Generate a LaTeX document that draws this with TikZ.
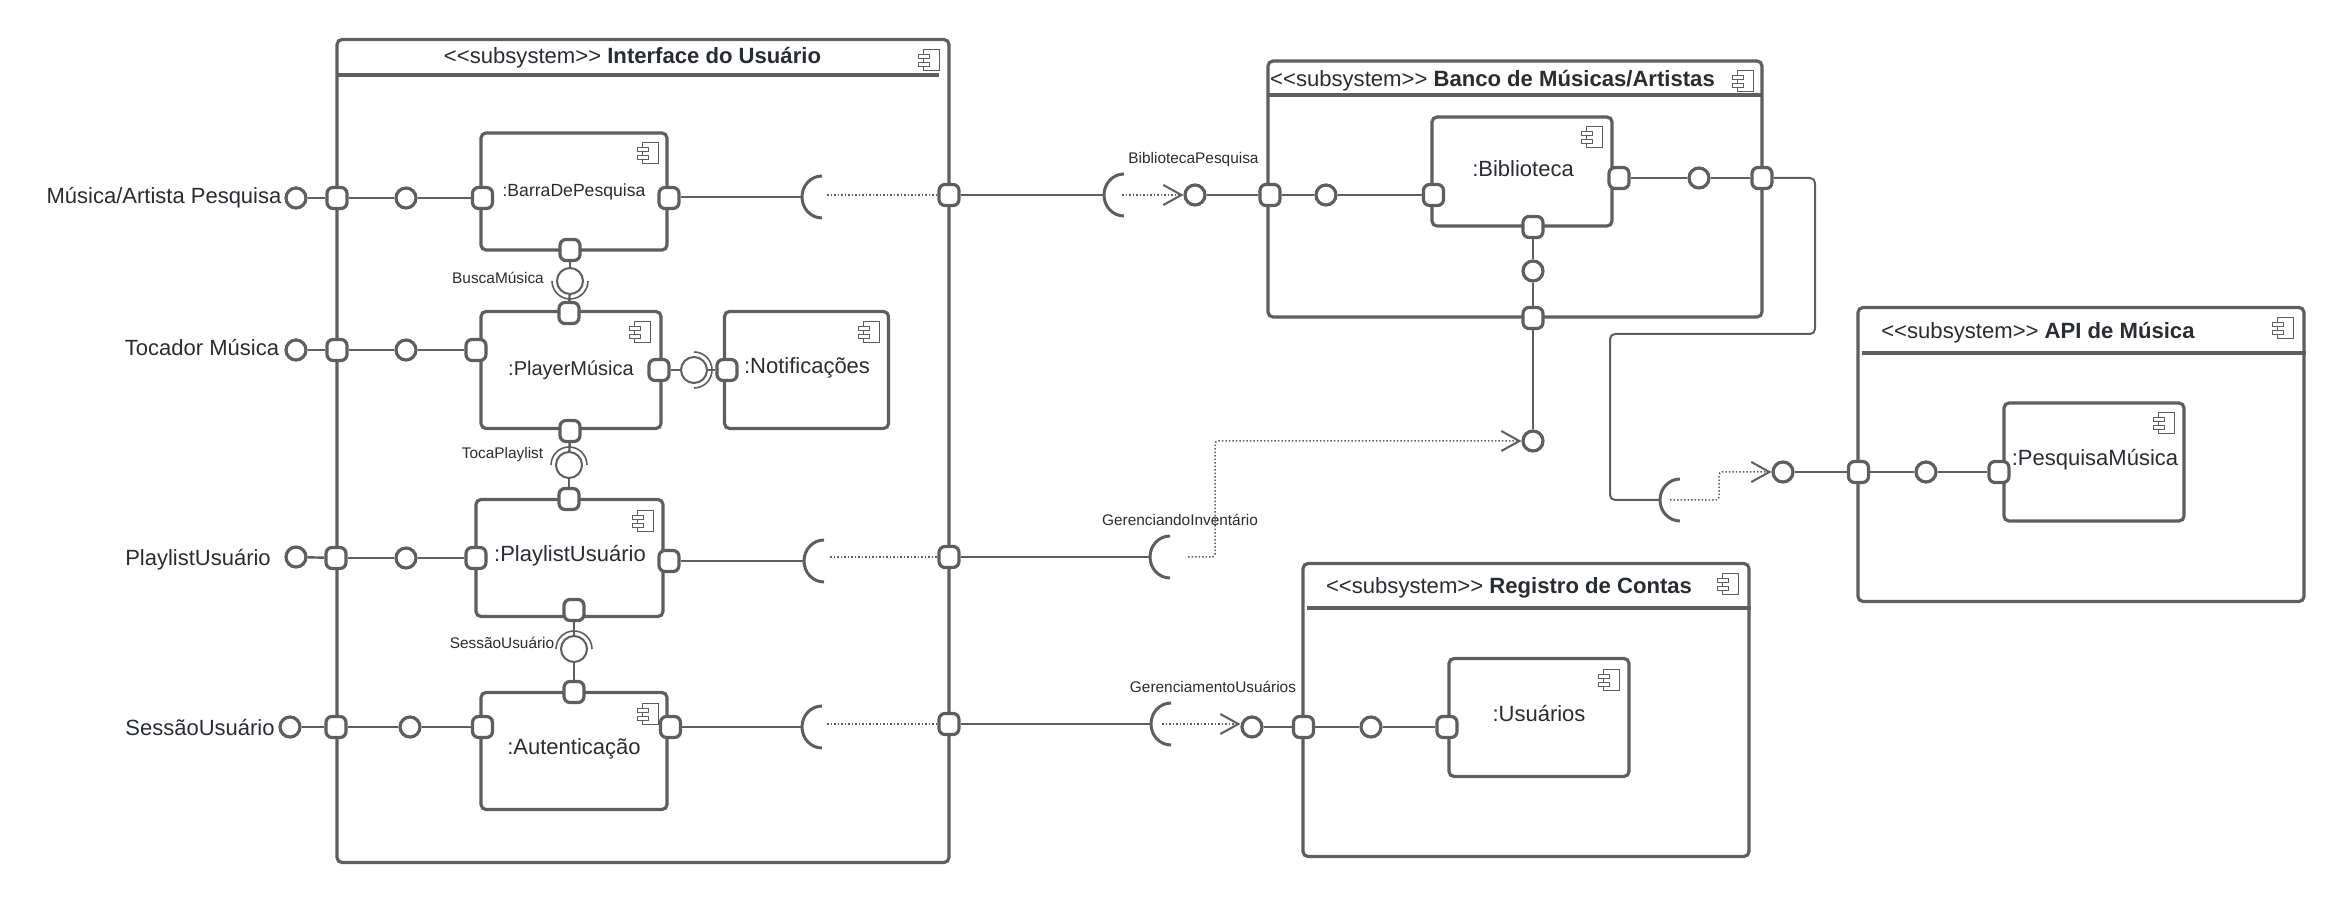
\documentclass[tikz,border=0pt]{standalone}
\usepackage{fontspec}
\setmainfont{Liberation Sans}
\usetikzlibrary{arrows.meta}
\definecolor{linegray}{HTML}{5E5E5E}
\definecolor{textdark}{HTML}{282C33}
\tikzset{
  bigbox/.style={rectangle,draw=linegray,line width=1.6pt,rounded corners=2.5pt,inner sep=0pt},
  compbox/.style={bigbox},
  port/.style={rectangle,draw=linegray,fill=white,line width=1.6pt,rounded corners=3pt,
    minimum width=10pt,minimum height=10.5pt,inner sep=0pt},
  ball/.style={circle,draw=linegray,fill=white,line width=1.6pt,minimum size=10pt,inner sep=0pt},
  bigball/.style={circle,draw=linegray,fill=white,line width=1pt,minimum size=13pt,inner sep=0pt},
  conn/.style={draw=linegray,line width=1.2pt},
  headline/.style={draw=linegray,line width=1.6pt},
  halfarc/.style={draw=linegray,line width=.8pt},
  dotline/.style={draw=linegray,line width=.75pt,densely dotted},
  dotarrow/.style={dotline,-{Straight Barb[length=9pt,width=10pt,line width=1pt]},rounded corners=1.5pt},
  title/.style={text=textdark,font=\fontsize{11.05}{13}\selectfont,inner sep=0pt,yshift=-.8pt},
  outlabel/.style={text=textdark,font=\fontsize{11}{13}\selectfont,inner sep=0pt,yshift=-.8pt},
  complabel/.style={text=textdark,font=\fontsize{11}{13}\selectfont,inner sep=0pt,yshift=-.6pt},
  smalllabel/.style={text=textdark,font=\fontsize{7.7}{9}\selectfont,inner sep=0pt},
  compicon/.pic={
    \draw[linegray,line width=.5pt] (-16,0) rectangle (0,21);
    \draw[linegray,line width=.5pt,fill=white] (-21,5) rectangle (-10,9);
    \draw[linegray,line width=.5pt,fill=white] (-21,13) rectangle (-10,17);
  },
  socket/.pic={
    \draw[linegray,line width=1.5pt] (20,-21) arc[start angle=270,end angle=90,x radius=20,y radius=21];
  }
}
\newcommand{\stereo}{<{}<subsystem>{}>}
\begin{document}
\begin{tikzpicture}[x=0.5pt,y=-0.5pt]
  \useasboundingbox (0,0) rectangle (2347,903);

  % subsystems
  \node[bigbox,minimum width=306pt,minimum height=411.5pt] (uibox) at (643,451) {};
  \node[bigbox,minimum width=247pt,minimum height=128pt] (bancobox) at (1515,189) {};
  \node[bigbox,minimum width=223pt,minimum height=146.5pt] (contasbox) at (1526,710) {};
  \node[bigbox,minimum width=223pt,minimum height=147pt] (apibox) at (2081,454.5) {};
  \draw[headline] (337,75) -- (939,75);
  \draw[headline] (1269,95) -- (1762,95);
  \draw[headline] (1307,608) -- (1751,608);
  \draw[headline] (1862,353) -- (2306,353);
  \node[title] (uititle) at (632.5,56) {\stereo{} \textbf{Interface do Usuário}};
  \node[title] (bancotitle) at (1492.5,79) {\stereo{} \textbf{Banco de Músicas/Artistas}};
  \node[title] (contastitle) at (1509,586) {\stereo{} \textbf{Registro de Contas}};
  \node[title] (apititle) at (2038,331) {\stereo{} \textbf{API de Música}};

  % components
  \node[compbox,minimum width=93pt,minimum height=58.5pt] (barra) at (574,191.5) {};
  \node[compbox,minimum width=90pt,minimum height=58.5pt] (player) at (571,370) {};
  \node[compbox,minimum width=82pt,minimum height=58.5pt] (notif) at (806.5,370) {};
  \node[compbox,minimum width=93.5pt,minimum height=58.5pt] (playlist) at (569.5,558) {};
  \node[compbox,minimum width=93pt,minimum height=58.5pt] (autent) at (574,751) {};
  \node[compbox,minimum width=90pt,minimum height=54.5pt] (biblio) at (1522,171.5) {};
  \node[compbox,minimum width=90pt,minimum height=59pt] (usuarios) at (1539,717.5) {};
  \node[compbox,minimum width=90pt,minimum height=59pt] (pesqmus) at (2094,462) {};
  \node[complabel,font=\fontsize{8.8}{11}\selectfont] (barratext) at (574,191) {:BarraDePesquisa};
  \node[complabel,font=\fontsize{10}{12}\selectfont] (playertext) at (571,369) {:PlayerMúsica};
  \node[complabel] (notiftext) at (807,367) {:Notificações};
  \node[complabel] (playlisttext) at (570,554) {:PlaylistUsuário};
  \node[complabel] (autenttext) at (574,748) {:Autenticação};
  \node[complabel] (bibliotext) at (1523,167.5) {:Biblioteca};
  \node[complabel] (usuariostext) at (1539,712) {:Usuários};
  \node[complabel] (pesqmustext) at (2095,458) {:PesquisaMúsica};
  \pic at (939,50) {compicon};
  \pic at (1753,71) {compicon};
  \pic at (1738,574) {compicon};
  \pic at (2293,318) {compicon};
  \pic at (658,143) {compicon};
  \pic at (650,322) {compicon};
  \pic at (879,322) {compicon};
  \pic at (653,511) {compicon};
  \pic at (658,703) {compicon};
  \pic at (1602,127) {compicon};
  \pic at (1619,669) {compicon};
  \pic at (2174,413) {compicon};

  % outer labels
  \node[outlabel] (musicalabel) at (164,196) {Música/Artista Pesquisa};
  \node[outlabel] (tocadorlabel) at (202,346) {Tocador Música};
  \node[outlabel] (playlistlabel) at (198,558) {PlaylistUsuário};
  \node[outlabel] (sessaolabel) at (200,726) {SessãoUsuário};
  \node[smalllabel] (buscalabel) at (498,278) {BuscaMúsica};
  \node[smalllabel] (tocalabel) at (502.5,455) {TocaPlaylist};
  \node[smalllabel] (sessaosmall) at (502,643) {SessãoUsuário};
  \node[smalllabel] (bibpesqlabel) at (1193.5,160) {BibliotecaPesquisa};
  \node[smalllabel] (gerinvlabel) at (1180,520) {GerenciandoInventário};
  \node[smalllabel] (gerusulabel) at (1213,687) {GerenciamentoUsuários};

  % first row
  \node[ball] (outmusica) at (296,198) {};
  \node[port] (pmusica) at (337,198) {};
  \node[ball] (midmusica) at (406,198) {};
  \node[port] (pbarraw) at (482.5,198) {};
  \node[port] (pbarrae) at (669,198) {};
  \coordinate (sockbarra) at (802,197);
  \coordinate (dotbarra) at (827,195);
  \node[port] (puibarra) at (949,195) {};
  \pic at (sockbarra) {socket};
  \draw[conn] (outmusica) -- (pmusica);
  \draw[conn] (pmusica) -- (midmusica);
  \draw[conn] (midmusica) -- (pbarraw);
  \draw[conn] (pbarrae.east |- sockbarra) -- (sockbarra);
  \draw[dotline] (dotbarra) -- (puibarra);

  % second row
  \node[ball] (outtocador) at (296,350) {};
  \node[port] (ptocador) at (337,350) {};
  \node[ball] (midtocador) at (406,350) {};
  \node[port] (pplayerw) at (476,350) {};
  \node[port] (pplayere) at (659,370) {};
  \node[port] (pnotif) at (727,370) {};
  \node[bigball] (ballnotif) at (694,370) {};
  \draw[conn] (outtocador) -- (ptocador);
  \draw[conn] (ptocador) -- (midtocador);
  \draw[conn] (midtocador) -- (pplayerw);
  \draw[conn] (pplayere) -- (ballnotif);
  \draw[conn] (ballnotif) -- (pnotif);
  \draw[halfarc] (694,352) arc[start angle=270,end angle=450,radius=18];

  % third row
  \node[ball] (outplaylist) at (296,557) {};
  \node[port] (pplaylist) at (336,558) {};
  \node[ball] (midplaylist) at (406,558) {};
  \node[port] (pplaylistw) at (476,558) {};
  \node[port] (pplayliste) at (669,561) {};
  \coordinate (sockplaylist) at (804,561);
  \coordinate (dotplaylist) at (830,557);
  \node[port] (puiplaylist) at (949,557) {};
  \pic at (sockplaylist) {socket};
  \draw[conn] (outplaylist) -- (pplaylist);
  \draw[conn] (pplaylist) -- (midplaylist);
  \draw[conn] (midplaylist) -- (pplaylistw);
  \draw[conn] (pplayliste) -- (sockplaylist);
  \draw[dotline] (dotplaylist) -- (puiplaylist);

  % fourth row
  \node[ball] (outsessao) at (290,727) {};
  \node[port] (psessao) at (336,727) {};
  \node[ball] (midsessao) at (410,727) {};
  \node[port] (pautentw) at (482.5,727) {};
  \node[port] (pautente) at (670.5,727) {};
  \coordinate (sockautent) at (802,727);
  \coordinate (dotautent) at (827,724);
  \node[port] (puiautent) at (949,724) {};
  \pic at (sockautent) {socket};
  \draw[conn] (outsessao) -- (psessao);
  \draw[conn] (psessao) -- (midsessao);
  \draw[conn] (midsessao) -- (pautentw);
  \draw[conn] (pautente) -- (sockautent);
  \draw[dotline] (dotautent) -- (puiautent);

  % between the components
  \node[port] (pbarras) at (570,250) {};
  \node[bigball] (ballbusca) at (570,281) {};
  \node[port] (pplayern) at (569,313) {};
  \draw[conn] (pbarras) -- (ballbusca);
  \draw[conn] (ballbusca) -- (pplayern);
  \draw[halfarc] (552,281) arc[start angle=180,end angle=0,radius=18];
  \node[port] (pplayers) at (570,431) {};
  \node[bigball] (balltoca) at (569,465) {};
  \node[port] (pplaylistn) at (569,499) {};
  \draw[conn] (pplayers) -- (balltoca);
  \draw[conn] (balltoca) -- (pplaylistn);
  \draw[halfarc] (551,465) arc[start angle=180,end angle=360,radius=18];
  \node[port] (pplaylists) at (574,610) {};
  \node[bigball] (ballsessao) at (574,649) {};
  \node[port] (pautentn) at (574,692) {};
  \draw[conn] (pplaylists) -- (ballsessao);
  \draw[conn] (ballsessao) -- (pautentn);
  \draw[halfarc] (556,649) arc[start angle=180,end angle=360,radius=18];

  % banco
  \coordinate (sockbib) at (1104,195);
  \coordinate (dotbib) at (1122,195);
  \node[ball] (ballbib) at (1195,195) {};
  \node[port] (pbancow) at (1270,195) {};
  \node[ball] (midbib) at (1326,195) {};
  \node[port] (pbibw) at (1433.5,195) {};
  \node[port] (pbibe) at (1619,178) {};
  \node[ball] (midbibe) at (1699,178) {};
  \node[port] (pbancoe) at (1762,178) {};
  \node[port] (pbibs) at (1533,227) {};
  \node[ball] (midbibs) at (1533,271) {};
  \node[port] (pbancos) at (1533,318) {};
  \node[ball] (ballinv) at (1533,441) {};
  \pic at (sockbib) {socket};
  \draw[conn] (puibarra) -- (sockbib);
  \draw[dotarrow] (dotbib) -- (ballbib);
  \draw[conn] (ballbib) -- (pbancow);
  \draw[conn] (pbancow) -- (midbib);
  \draw[conn] (midbib) -- (pbibw);
  \draw[conn] (pbibe) -- (midbibe);
  \draw[conn] (midbibe) -- (pbancoe);
  \draw[conn] (pbibs) -- (midbibs);
  \draw[conn] (midbibs) -- (pbancos);
  \draw[conn] (pbancos) -- (ballinv);

  % inventario
  \coordinate (sockinv) at (1150,557);
  \coordinate (dotinv) at (1188,557);
  \pic at (sockinv) {socket};
  \draw[conn] (puiplaylist) -- (sockinv);
  \draw[dotarrow] (dotinv) -- (1215,557) -- (1215,441) -- (ballinv);

  % contas
  \coordinate (sockusu) at (1151,724);
  \coordinate (dotusu) at (1162,724);
  \node[ball] (ballusu) at (1252,727) {};
  \node[port] (pcontas) at (1303.5,727) {};
  \node[ball] (midusu) at (1371,727) {};
  \node[port] (pusuarios) at (1447,727) {};
  \pic at (sockusu) {socket};
  \draw[conn] (puiautent) -- (sockusu);
  \draw[dotarrow] (dotusu) -- (ballusu.west |- dotusu);
  \draw[conn] (ballusu) -- (pcontas);
  \draw[conn] (pcontas) -- (midusu);
  \draw[conn] (midusu) -- (pusuarios);

  % api
  \coordinate (sockapi) at (1660,500);
  \coordinate (dotapi) at (1670,500);
  \node[ball] (ballapi) at (1783,472) {};
  \node[port] (papi) at (1858.5,472) {};
  \node[ball] (midapi) at (1926,472) {};
  \node[port] (ppesq) at (1999,472) {};
  \pic at (sockapi) {socket};
  \draw[conn,line width=1pt,rounded corners=2.5pt] (pbancoe) -- (1815,178) -- (1815,334) -- (1610,334) -- (1610,500) -- (sockapi);
  \draw[dotarrow] (dotapi) -- (1719,500) -- (1719,472) -- (ballapi);
  \draw[conn] (ballapi) -- (papi);
  \draw[conn] (papi) -- (midapi);
  \draw[conn] (midapi) -- (ppesq);
\end{tikzpicture}
\end{document}
